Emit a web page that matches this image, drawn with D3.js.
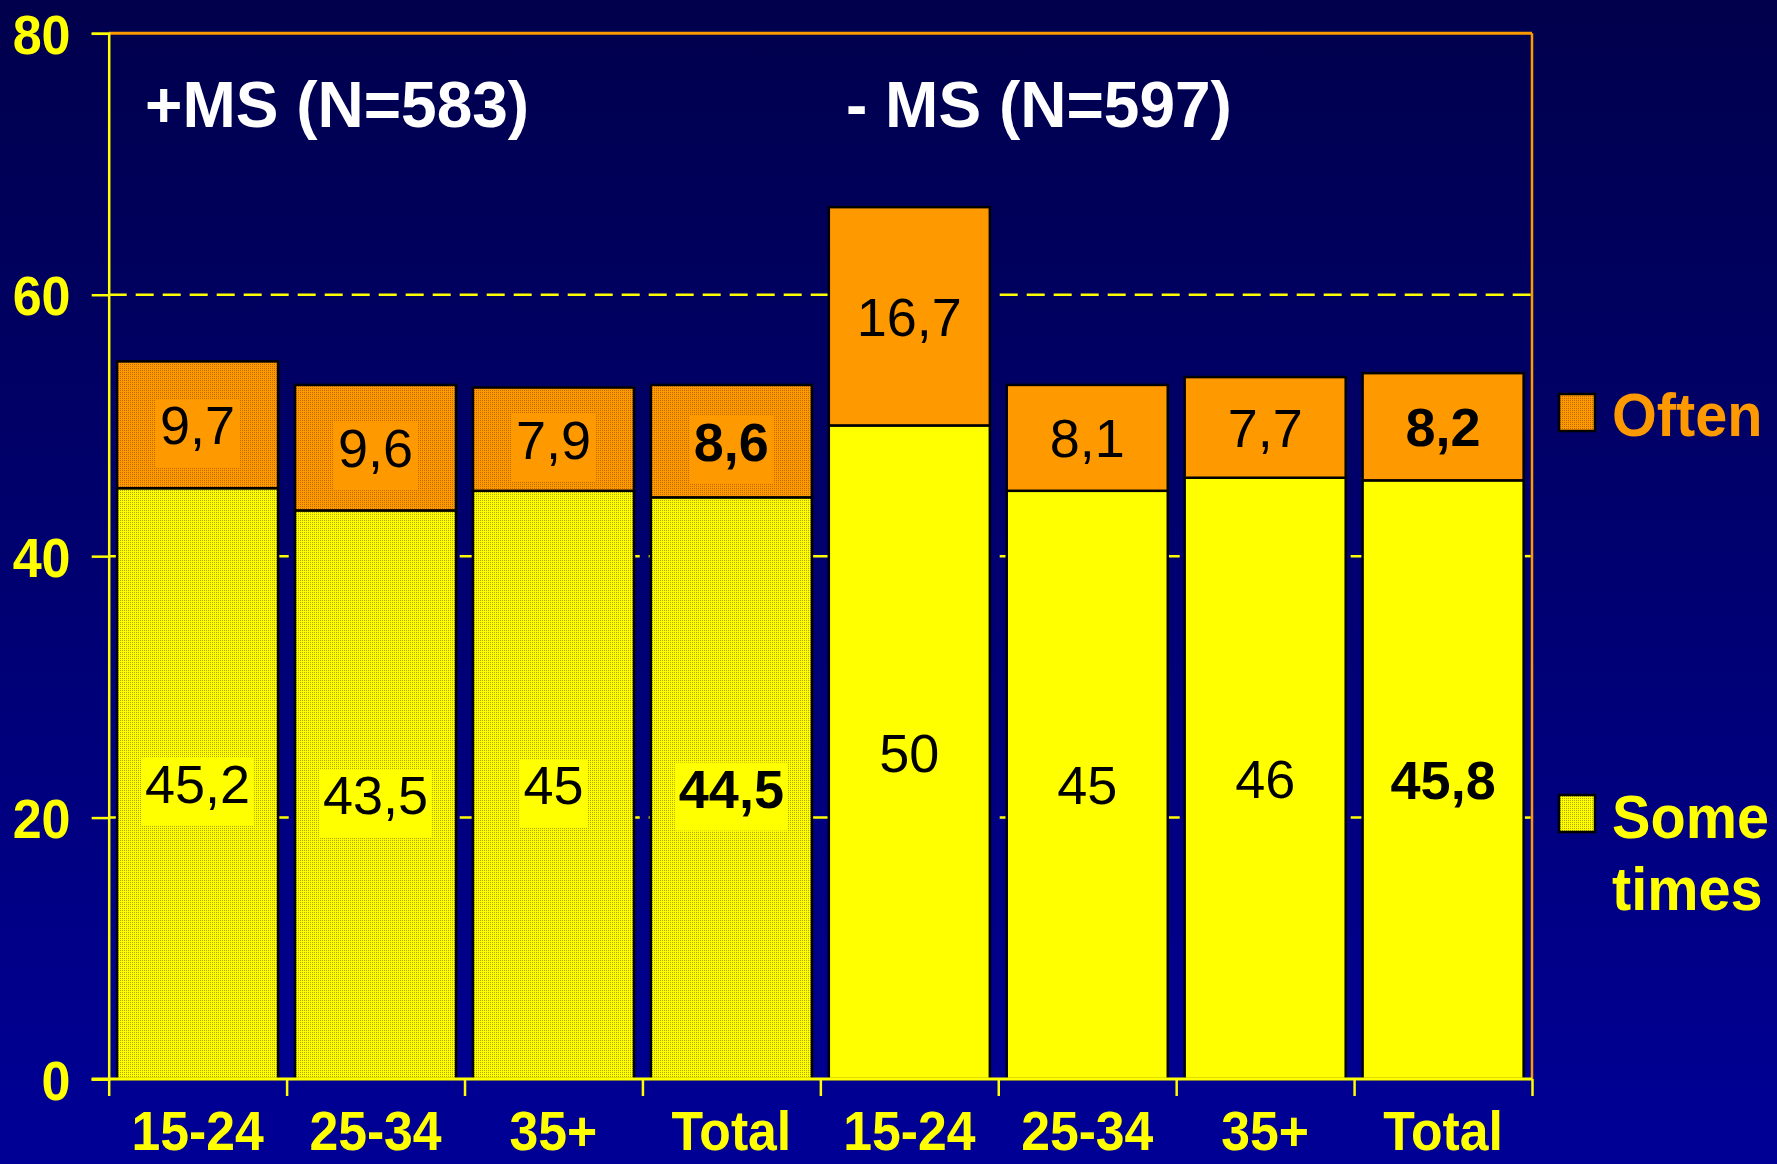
<!DOCTYPE html>
<html>
<head>
<meta charset="utf-8">
<script src="https://cdn.jsdelivr.net/npm/d3@7"></script>
<style>
  html, body { margin: 0; padding: 0; background: #000050; }
  svg { display: block; }
</style>
</head>
<body>
<div id="chart"></div>
<script>
// chart data
const ageLabels = ["15-24", "25-34", "35+", "Total", "15-24", "25-34", "35+", "Total"];
const sometimes = [45.2, 43.5, 45, 44.5, 50, 45, 46, 45.8];
const often = [9.7, 9.6, 7.9, 8.6, 16.7, 8.1, 7.7, 8.2];
const sometimesText = ["45,2", "43,5", "45", "44,5", "50", "45", "46", "45,8"];
const oftenText = ["9,7", "9,6", "7,9", "8,6", "16,7", "8,1", "7,7", "8,2"];
const groupTitles = ["+MS (N=583)", "- MS (N=597)"];
const yTicks = [0, 20, 40, 60, 80];

const W = 1777, H = 1164;
const plotLeft = 108.7, plotRight = 1532, plotTop = 33.3, plotBottom = 1079;
const font = "Liberation Sans, Arial, sans-serif";

const svg = d3.select("#chart").append("svg")
  .attr("width", W)
  .attr("height", H);

const defs = svg.append("defs");

// background gradient
const grad = defs.append("linearGradient")
  .attr("id", "bg")
  .attr("x1", 0).attr("y1", 0).attr("x2", 0).attr("y2", 1);
grad.append("stop").attr("offset", "0%").attr("stop-color", "#00004c");
grad.append("stop").attr("offset", "100%").attr("stop-color", "#000096");

// stipple textures for the +MS bars
function stipple(id, base, dot) {
  const p = defs.append("pattern")
    .attr("id", id)
    .attr("patternUnits", "userSpaceOnUse")
    .attr("width", 2).attr("height", 2);
  p.append("rect").attr("width", 2).attr("height", 2).attr("fill", base);
  p.append("rect").attr("width", 1).attr("height", 1).attr("fill", dot);
}
stipple("dotOrange", "#ff9900", "#c06a00");
stipple("dotYellow", "#ffff00", "#b0a800");

svg.append("rect")
  .attr("width", W)
  .attr("height", H)
  .attr("fill", "url(#bg)");

// scales
const x = d3.scaleBand()
  .domain(d3.range(ageLabels.length))
  .range([plotLeft, plotRight])
  .paddingInner(0.095)
  .paddingOuter(0.047);

const xEdge = d3.scaleLinear()
  .domain([0, ageLabels.length])
  .range([plotLeft, plotRight]);

const y = d3.scaleLinear()
  .domain([0, 80])
  .range([plotBottom, plotTop]);

// dashed gridlines (behind bars)
svg.append("g")
  .selectAll("line")
  .data([20, 40, 60])
  .enter()
  .append("line")
  .attr("x1", plotLeft)
  .attr("x2", plotRight)
  .attr("y1", (d) => y(d))
  .attr("y2", (d) => y(d))
  .attr("stroke", "#ffff00")
  .attr("stroke-width", 2.5)
  .attr("stroke-dasharray", "18,9");

// bars
const isTextured = (i) => i < 4;

const bars = svg.append("g")
  .selectAll("g")
  .data(d3.range(ageLabels.length))
  .enter()
  .append("g");

bars.append("rect")
  .attr("x", (i) => x(i))
  .attr("y", (i) => y(sometimes[i]))
  .attr("width", x.bandwidth())
  .attr("height", (i) => y(0) - y(sometimes[i]))
  .attr("fill", (i) => (isTextured(i) ? "url(#dotYellow)" : "#ffff00"))
  .attr("stroke", "#000")
  .attr("stroke-width", 2.5);

bars.append("rect")
  .attr("x", (i) => x(i))
  .attr("y", (i) => y(sometimes[i] + often[i]))
  .attr("width", x.bandwidth())
  .attr("height", (i) => y(sometimes[i]) - y(sometimes[i] + often[i]))
  .attr("fill", (i) => (isTextured(i) ? "url(#dotOrange)" : "#ff9900"))
  .attr("stroke", "#000")
  .attr("stroke-width", 2.5);

// value labels with plain background boxes
function addLabel(i, value, base, text, bg) {
  const cx = x(i) + x.bandwidth() / 2;
  const cy = y(base + value / 2);
  const g = svg.append("g");
  const bgRect = g.append("rect").attr("fill", bg);
  const t = g.append("text")
    .attr("x", cx)
    .attr("y", cy)
    .attr("dy", "0.36em")
    .attr("text-anchor", "middle")
    .attr("font-family", font)
    .attr("font-size", 54)
    .attr("font-weight", ageLabels[i] === "Total" ? "bold" : "normal")
    .attr("fill", "#000")
    .text(text);
  const b = t.node().getBBox();
  bgRect
    .attr("x", b.x - 4)
    .attr("y", b.y + 4)
    .attr("width", b.width + 8)
    .attr("height", b.height + 8);
}

d3.range(ageLabels.length).forEach((i) => {
  addLabel(i, sometimes[i], 0, sometimesText[i], "#ffff00");
  addLabel(i, often[i], sometimes[i], oftenText[i], "#ff9900");
});

// frame: top and right border in orange
svg.append("line")
  .attr("x1", plotLeft).attr("x2", plotRight)
  .attr("y1", plotTop).attr("y2", plotTop)
  .attr("stroke", "#ff9900")
  .attr("stroke-width", 3);
svg.append("line")
  .attr("x1", plotRight).attr("x2", plotRight)
  .attr("y1", plotTop).attr("y2", plotBottom)
  .attr("stroke", "#ff9900")
  .attr("stroke-width", 2.5);

// y axis
const yAxis = svg.append("g")
  .attr("transform", `translate(${plotLeft},0)`)
  .call(d3.axisLeft(y).tickValues(yTicks).tickSize(17).tickPadding(24));
yAxis.select(".domain").attr("stroke", "#ffff00").attr("stroke-width", 2.5);
yAxis.selectAll(".tick line").attr("stroke", "#ffff00").attr("stroke-width", 2.5);
yAxis.selectAll(".tick text")
  .attr("fill", "#ffff00")
  .attr("font-family", font)
  .attr("font-weight", "bold")
  .attr("font-size", 56)
  .attr("dy", "0.36em")
  .attr("transform", "scale(0.93,1)");

// x axis: tick marks at the category edges
const xTickAxis = svg.append("g")
  .attr("transform", `translate(0,${plotBottom})`)
  .call(d3.axisBottom(xEdge).ticks(8).tickSize(17).tickFormat(""));
xTickAxis.select(".domain")
  .attr("d", `M${plotLeft - 17},0H${plotRight}`)
  .attr("stroke", "#ffff00")
  .attr("stroke-width", 3);
xTickAxis.selectAll(".tick line").attr("stroke", "#ffff00").attr("stroke-width", 2.5);

// x axis labels at band centres
const xLabelAxis = svg.append("g")
  .attr("transform", `translate(0,${plotBottom})`)
  .call(d3.axisBottom(x).tickSize(0).tickPadding(32).tickFormat((i) => ageLabels[i]));
xLabelAxis.select(".domain").remove();
xLabelAxis.selectAll(".tick text")
  .attr("fill", "#ffff00")
  .attr("font-family", font)
  .attr("font-weight", "bold")
  .attr("font-size", 55)
  .attr("dy", "0.71em")
  .attr("transform", "scale(0.94,1)");

// group titles
svg.selectAll(".groupTitle")
  .data(groupTitles)
  .enter()
  .append("text")
  .attr("class", "groupTitle")
  .attr("x", (d, i) => (i === 0 ? 145 : 846))
  .attr("y", 127)
  .attr("fill", "#ffffff")
  .attr("font-family", font)
  .attr("font-weight", "bold")
  .attr("font-size", 64)
  .text((d) => d);

// legend
const legendItems = [
  { lines: ["Often"], color: "#ff9900", fill: "url(#dotOrange)", boxY: 394, textY: 436 },
  { lines: ["Some", "times"], color: "#ffff00", fill: "url(#dotYellow)", boxY: 795, textY: 838 },
];

const legend = svg.append("g");
legendItems.forEach((item) => {
  legend.append("rect")
    .attr("x", 1559).attr("y", item.boxY)
    .attr("width", 36).attr("height", 37)
    .attr("fill", item.fill)
    .attr("stroke", "#000")
    .attr("stroke-width", 2.5);
  item.lines.forEach((line, k) => {
    legend.append("text")
      .attr("transform", `translate(1612,${item.textY + k * 72}) scale(0.93,1)`)
      .attr("fill", item.color)
      .attr("font-family", font)
      .attr("font-weight", "bold")
      .attr("font-size", 62)
      .text(line);
  });
});
</script>
</body>
</html>
